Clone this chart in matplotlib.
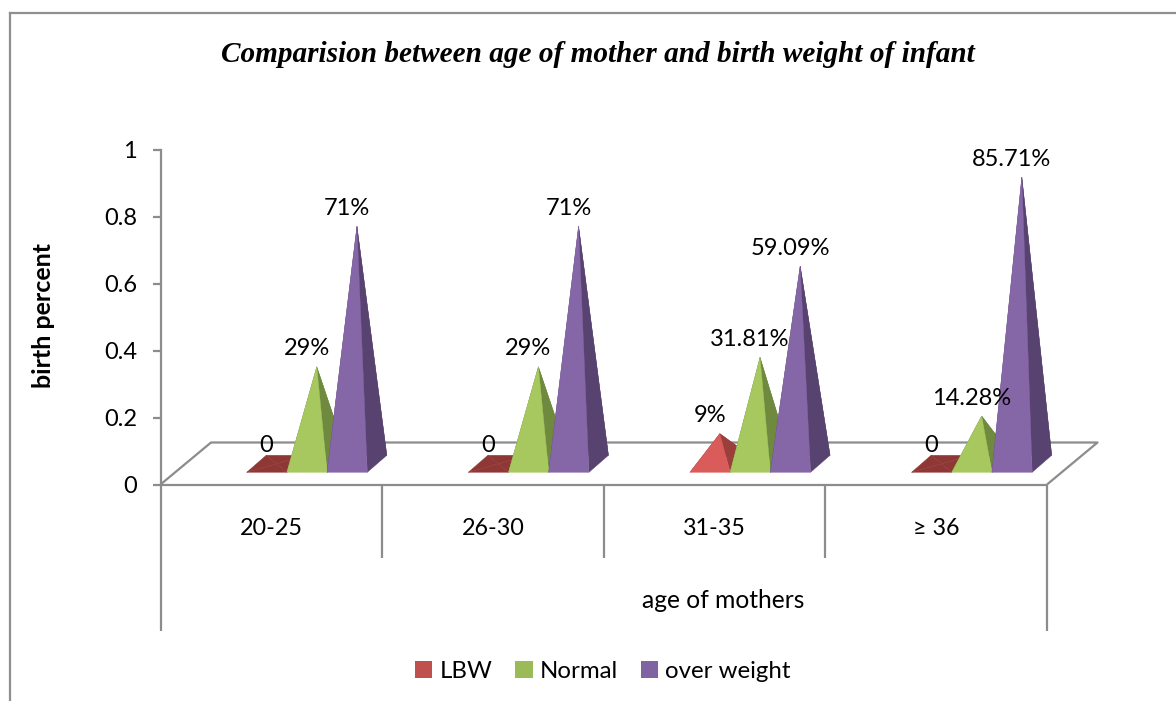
import matplotlib
matplotlib.use("Agg")
import matplotlib.pyplot as plt
from matplotlib.patches import Polygon, Rectangle
from matplotlib.lines import Line2D

categories = ["20-25", "26-30", "31-35", "≥ 36"]
lbw = [0, 0, 0.09, 0]
normal = [0.29, 0.29, 0.3181, 0.1428]
over_weight = [0.71, 0.71, 0.5909, 0.8571]
lbw_labels = ["0", "0", "9%", "0"]
normal_labels = ["29%", "29%", "31.81%", "14.28%"]
over_labels = ["71%", "71%", "59.09%", "85.71%"]
series_names = ["LBW", "Normal", "over weight"]

W, H = 1176, 701
FONT = "Lato"
GRAY = "#8c8c8c"
AX_L, AX_R, AX_T, AX_B = 160.5, 1047, 150, 484.5

fig = plt.figure(figsize=(W / 100, H / 100), dpi=100, facecolor="white")
ax = fig.add_axes([AX_L / W, 1 - AX_B / H, (AX_R - AX_L) / W, (AX_B - AX_T) / H])
ax.set_xlim(0, 4)
ax.set_ylim(0, 1)
ax.patch.set_visible(False)
for s in ["top", "right", "bottom"]:
    ax.spines[s].set_visible(False)
ax.spines["left"].set_color(GRAY)
ax.spines["left"].set_linewidth(1.6)
ax.set_xticks([])
ax.set_yticks([0, 0.2, 0.4, 0.6, 0.8, 1])
ax.set_yticklabels(["0", "0.2", "0.4", "0.6", "0.8", "1"], fontsize=17, family=FONT)
ax.tick_params(axis="y", length=5.5, width=1.6, color=GRAY, pad=11.5)
ax.set_ylabel("birth percent", fontsize=18, family=FONT, fontweight="bold", labelpad=0)
ax.yaxis.set_label_coords((55 - AX_L) / (AX_R - AX_L), (AX_B - 316) / (AX_B - AX_T))

PX = 4 / (AX_R - AX_L)           # one pixel in x data units
PY = 1 / (AX_B - AX_T)           # one pixel in y data units
FLOOR_DX, FLOOR_DY = 50.5 * PX, 42 * PY
DEPTH_DX, DEPTH_DY = 19.5 * PX, 17 * PY
BASE_Y = 12.2 * PY
BAR_W = 40.2 * PX
GROUP_START = 86.2 * PX


def gline(xs, ys, lw=1.6):
    ax.add_line(Line2D(xs, ys, color=GRAY, lw=lw, clip_on=False, solid_capstyle="butt"))


# floor
gline([0, 4], [0, 0])
gline([0, FLOOR_DX, 4 + FLOOR_DX, 4], [0, FLOOR_DY, FLOOR_DY, 0])

# category axis levels
for i in range(1, 4):
    gline([i, i], [0, -73 * PY])
for i in (0, 4):
    gline([i, i], [0, -146 * PY])
for i, c in enumerate(categories):
    ax.text(i + 0.5, -44 * PY, c, ha="center", va="center", fontsize=16.8, family=FONT)
ax.text(2.5 + 9 * PX, -116 * PY, "age of mothers", ha="center", va="center", fontsize=17.7, family=FONT)


def pyramid(x0, value, front, side, flat):
    x1 = x0 + BAR_W
    b = BASE_Y
    dx, dy = DEPTH_DX, DEPTH_DY
    apex = (x0 + BAR_W / 2 + dx / 2, b + dy / 2 + value)
    if value == 0:
        front = side = flat
    faces = [
        ([(x0 + dx, b + dy), (x1 + dx, b + dy), apex], flat),
        ([(x0, b), (x0 + dx, b + dy), apex], flat),
        ([(x1, b), (x1 + dx, b + dy), apex], side),
        ([(x0, b), (x1, b), apex], front),
    ]
    for pts, col in faces:
        ax.add_patch(Polygon(pts, closed=True, facecolor=col, edgecolor=col, lw=0.3, clip_on=False, zorder=3))
    return apex


styles = [
    (lbw, lbw_labels, "#d95c5a", "#9b3f3d", "#8f3735"),
    (normal, normal_labels, "#a6c85f", "#6f8a3f", "#6f8a3f"),
    (over_weight, over_labels, "#8566a6", "#574270", "#574270"),
]
for j, (vals, labs, front, side, flat) in enumerate(styles):
    for i, v in enumerate(vals):
        x0 = i + GROUP_START + j * BAR_W
        apex = pyramid(x0, v, front, side, flat)
        ax.annotate(labs[i], xy=apex, xytext=(-10 * 0.72, 18 * 0.72), textcoords="offset points",
                    ha="center", va="center", fontsize=17, family=FONT, zorder=5, annotation_clip=False)

# title
fig.text(598 / W, 1 - 54 / H, "Comparision between age of mother and birth weight of infant",
         ha="center", va="center", fontsize=21.1, family="Liberation Serif", style="italic", fontweight="bold")

# legend
legend_colors = ["#c0504d", "#9bbb59", "#8064a2"]
handles = [Rectangle((0, 0), 1, 1, facecolor=c, edgecolor="none") for c in legend_colors]
leg = fig.legend(handles, series_names, loc="center", bbox_to_anchor=(603 / W, 1 - 671 / H), ncol=3, frameon=False,
                 prop={"family": FONT, "size": 17.3}, handlelength=0.72, handleheight=0.72,
                 handletextpad=0.3, columnspacing=0.95)

# chart frame
FRAME = "#8f8f8f"
fig.add_artist(Line2D([9.5 / W, 9.5 / W], [0, 1 - 12.5 / H], color=FRAME, lw=1.6))
fig.add_artist(Line2D([9.5 / W, 1], [1 - 12.5 / H, 1 - 12.5 / H], color=FRAME, lw=1.6))

fig.savefig("out.png", dpi=100)
